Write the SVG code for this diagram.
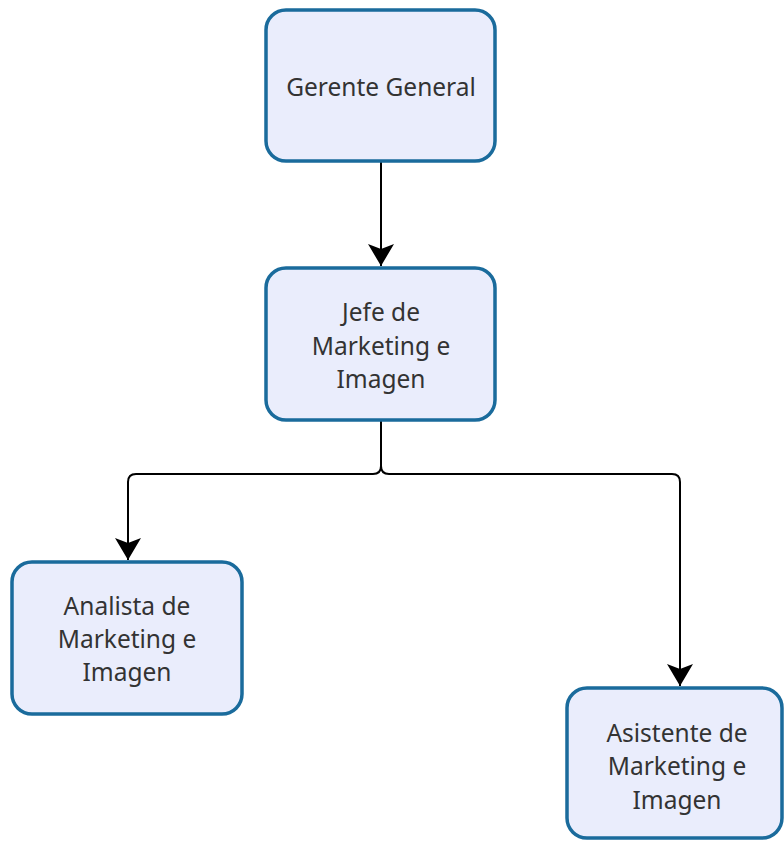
<svg xmlns="http://www.w3.org/2000/svg" width="784" height="841" viewBox="0 0 784 841">
<style>
.box{fill:#eaedfc;stroke:#1a6b9c;stroke-width:3.5}
.lbl{font-family:"Noto Sans","Open Sans",sans-serif;font-size:24.5px;fill:#333;text-anchor:middle;dominant-baseline:central}
.con{fill:none;stroke:#000;stroke-width:2}
</style>
<defs>
<marker id="ah" markerUnits="userSpaceOnUse" markerWidth="30" markerHeight="30" refX="22" refY="13" orient="auto" viewBox="0 0 30 30">
<path d="M0,0 L22,13 L0,26 L5,13 Z" fill="#000"/>
</marker>
</defs>
<rect width="784" height="841" fill="#fff"/>
<g id="connectors">
<path class="con" d="M381,161 V266" marker-end="url(#ah)"/>
<path class="con" d="M381,420 V466 Q381,474 373,474 H136 Q128,474 128,482 V560" marker-end="url(#ah)"/>
<path class="con" d="M381,420 V466 Q381,474 389,474 H672 Q680,474 680,482 V686" marker-end="url(#ah)"/>
</g>
<g id="gerente">
<rect class="box" x="266" y="10" width="229" height="151" rx="20"/>
<text class="lbl" x="381" y="86">Gerente General</text>
</g>
<g id="jefe">
<rect class="box" x="266" y="268" width="229" height="152" rx="20"/>
<text class="lbl" x="381" y="311">Jefe de</text>
<text class="lbl" x="381" y="345">Marketing e</text>
<text class="lbl" x="381" y="378">Imagen</text>
</g>
<g id="analista">
<rect class="box" x="12" y="562" width="230" height="152" rx="20"/>
<text class="lbl" x="127" y="605">Analista de</text>
<text class="lbl" x="127" y="638">Marketing e</text>
<text class="lbl" x="127" y="671">Imagen</text>
</g>
<g id="asistente">
<rect class="box" x="567" y="688" width="215" height="150" rx="20"/>
<text class="lbl" x="677" y="732">Asistente de</text>
<text class="lbl" x="677" y="765">Marketing e</text>
<text class="lbl" x="677" y="799">Imagen</text>
</g>
</svg>
